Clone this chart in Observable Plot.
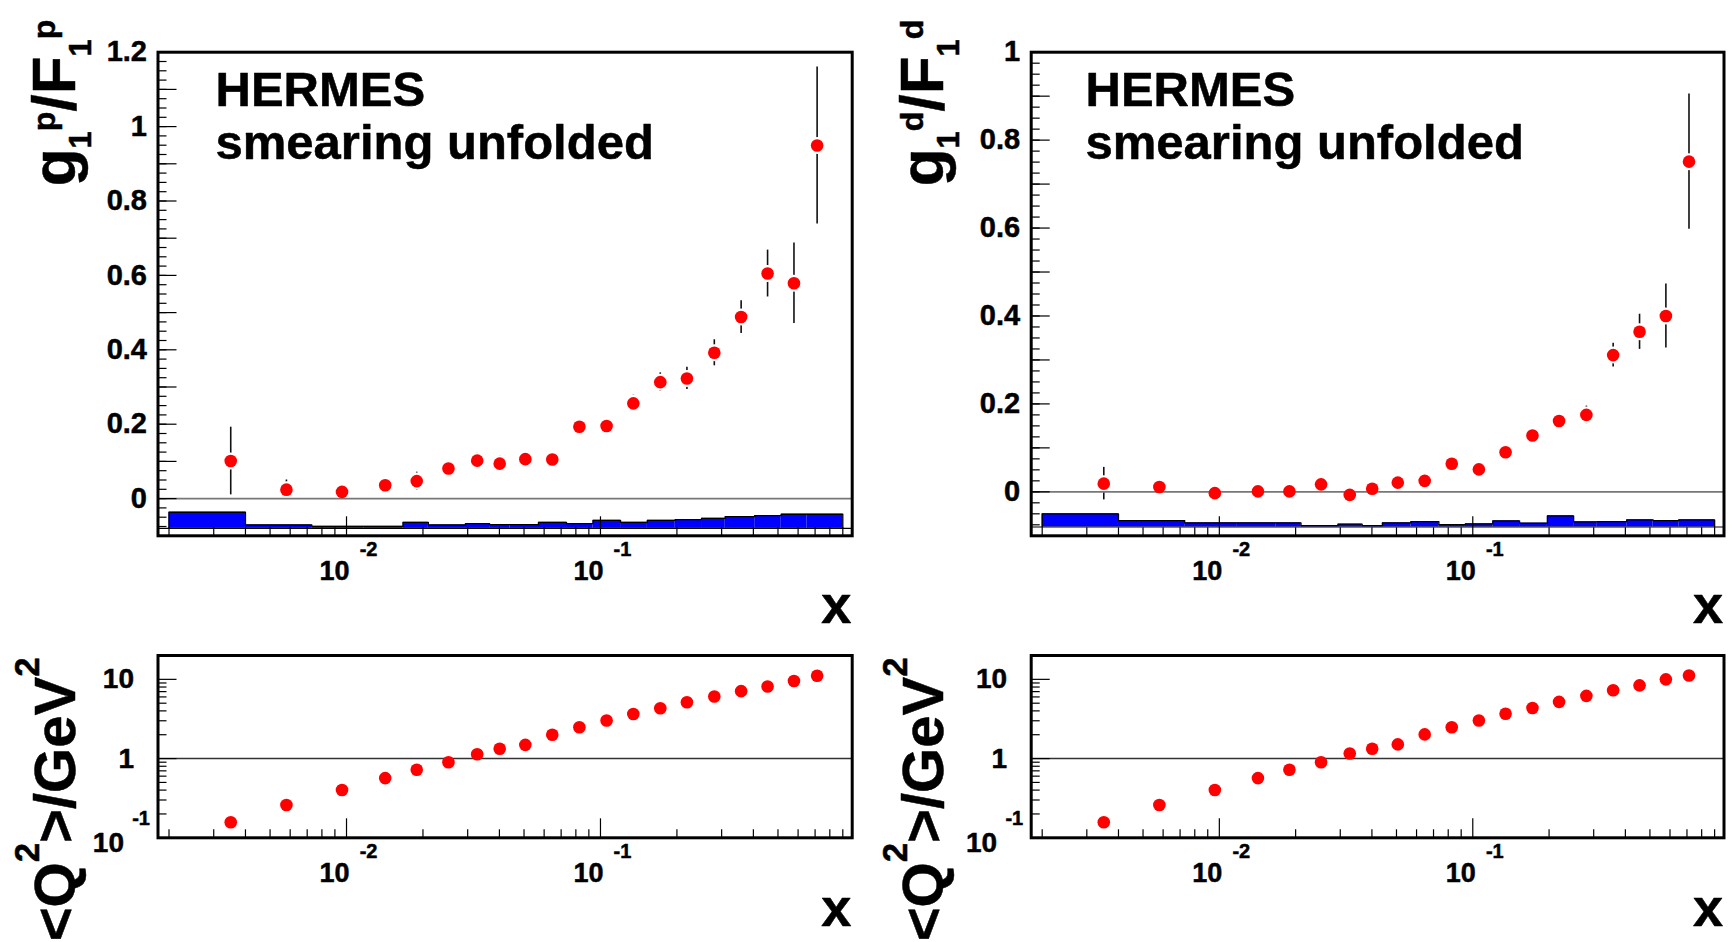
<!DOCTYPE html>
<html><head><meta charset="utf-8">
<script src="https://cdn.jsdelivr.net/npm/d3@7"></script>
<script src="https://cdn.jsdelivr.net/npm/@observablehq/plot@0.6"></script>
<style>
body{margin:0;background:#fff;}
#wrap{position:relative;width:1735px;height:942px;overflow:hidden;background:#fff;}
.panel{position:absolute;}
.panel text{paint-order:stroke;}
</style></head><body><div id="wrap"></div>
<script>
// ---- data ----
const xMean = [0.0035, 0.0058, 0.0096, 0.0142, 0.0189, 0.0252, 0.0327, 0.0401, 0.0506, 0.0646,
               0.0826, 0.1057, 0.1347, 0.172, 0.219, 0.2807, 0.358, 0.455, 0.578, 0.713];
const g1pF1p   = [0.101, 0.024, 0.018, 0.036, 0.047, 0.081, 0.102, 0.094, 0.106, 0.105,
                  0.193, 0.195, 0.256, 0.313, 0.323, 0.392, 0.488, 0.605, 0.579, 0.949];
const g1pErr   = [0.091, 0.026, 0.012, 0.012, 0.024, 0.014, 0.02, 0.02, 0.014, 0.014,
                  0.014, 0.014, 0.022, 0.025, 0.03, 0.035, 0.044, 0.063, 0.108, 0.211];
const g1dF1d   = [0.0186, 0.011, -0.003, 0.001, 0.001, 0.017, -0.007, 0.007, 0.021, 0.025,
                  0.064, 0.051, 0.090, 0.128, 0.161, 0.175, 0.311, 0.364, 0.400, 0.751];
const g1dErr   = [0.037, 0.01, 0.01, 0.01, 0.01, 0.01, 0.01, 0.01, 0.01, 0.01,
                  0.01, 0.01, 0.012, 0.014, 0.016, 0.02, 0.027, 0.040, 0.073, 0.154];
const binEdges = [0.002, 0.004, 0.0073, 0.0117, 0.0167, 0.021, 0.0294, 0.0366, 0.044, 0.057, 0.0735,
                  0.0935, 0.12, 0.153, 0.197, 0.25, 0.31, 0.405, 0.515, 0.65, 0.90];
const sysP = [-0.0367, -0.0709, -0.0745, -0.0745, -0.0637, -0.0709, -0.0673, -0.070, -0.070, -0.0637,
              -0.0673, -0.0583, -0.0637, -0.0583, -0.0565, -0.0529, -0.0484, -0.0457, -0.0421, -0.0421];
const sysD = [-0.050, -0.0653, -0.0706, -0.0706, -0.0706, -0.0767, -0.0736, -0.0767, -0.0706, -0.0676,
              -0.0744, -0.0729, -0.066, -0.0713, -0.0547, -0.0683, -0.0676, -0.0638, -0.0653, -0.0638];
const sysBase = -0.08;
const q2p = [0.157, 0.259, 0.402, 0.567, 0.724, 0.898, 1.136, 1.33, 1.49, 2.0,
             2.49, 3.03, 3.65, 4.31, 5.14, 6.07, 7.10, 8.14, 9.52, 11.1];
const q2d = [0.157, 0.259, 0.402, 0.567, 0.724, 0.898, 1.16, 1.33, 1.51, 2.02,
             2.49, 3.03, 3.68, 4.35, 5.19, 6.19, 7.3, 8.4, 10.0, 11.2];
const xDomain = [0.00181, 0.98];
const xMajor = [0.01, 0.1];
const xMajorExp = ["-2", "-1"];
const xMinor = [0.002,0.003,0.004,0.005,0.006,0.007,0.008,0.009,
                0.02,0.03,0.04,0.05,0.06,0.07,0.08,0.09,
                0.2,0.3,0.4,0.5,0.6,0.7,0.8,0.9];
const yLabP = [0, 0.2, 0.4, 0.6, 0.8, 1, 1.2];
const yLabD = [0, 0.2, 0.4, 0.6, 0.8, 1];
const q2Major = [1, 10];
const q2Minor = [0.2,0.3,0.4,0.5,0.6,0.7,0.8,0.9,2,3,4,5,6,7,8,9,20];

const FONT = "'Liberation Sans', Arial, Helvetica, sans-serif";
const wrap = document.getElementById("wrap");

function range(a, b, s) { const out = []; for (let v = a; v <= b + 1e-9; v += s) out.push(+v.toFixed(4)); return out; }

function richText(svg, marker, parts, F) {
  const t = Array.from(svg.querySelectorAll("text")).find(n => n.textContent === marker);
  if (!t) return;
  while (t.firstChild) t.removeChild(t.firstChild);
  let cur = 0;
  for (const [s, scale, shift] of parts) {
    const ts = document.createElementNS("http://www.w3.org/2000/svg", "tspan");
    ts.setAttribute("font-size", (F * scale).toFixed(1));
    const dy = shift * F - cur;
    ts.setAttribute("dy", dy.toFixed(2));
    cur = shift * F;
    ts.textContent = s;
    t.appendChild(ts);
  }
}

const LAB = {fontWeight: "bold", fill: "#000", stroke: "#000", strokeWidth: 0.5};

function xLabels(dyMain) {
  return [
    Plot.text(xMajor, {x: d => d, frameAnchor: "bottom", text: () => "10", dx: -12, dy: dyMain, fontSize: 27, ...LAB}),
    Plot.text(xMajor, {x: d => d, frameAnchor: "bottom", text: (d, i) => xMajorExp[i], dx: 22, dy: 20, fontSize: 20, ...LAB})
  ];
}

function mainPanel({left, top, width, height, mL, mT, mR, mB, yDomain, yLabels, vals, errs, sys, ylabel, sup, hx}) {
  const innerH = height - mT - mB, innerW = width - mL - mR;
  const idx = vals.map((_, i) => i);
  const bins = sys.map((v, i) => ({x1: binEdges[i], x2: binEdges[i + 1], top: v}));
  const outline = [{x: binEdges[0], y: sysBase}];
  sys.forEach((v, i) => outline.push({x: binEdges[i], y: v}));
  outline.push({x: binEdges[binEdges.length - 1], y: sys[sys.length - 1]});
  outline.push({x: binEdges[binEdges.length - 1], y: sysBase});
  const y0 = yDomain[0], y1 = yDomain[1];
  const yFine = range(Math.ceil(y0 / 0.025) * 0.025, y1, 0.025);
  const yMid = range(Math.ceil(y0 / 0.1) * 0.1, y1, 0.1);
  const plot = Plot.plot({
    width, height, marginLeft: mL, marginTop: mT, marginRight: mR, marginBottom: mB,
    x: {type: "log", domain: xDomain, axis: null},
    y: {domain: yDomain, axis: null},
    style: {fontFamily: FONT, background: "transparent", overflow: "visible"},
    marks: [
      Plot.rect(bins, {x1: "x1", x2: "x2", y1: sysBase, y2: "top", fill: "#0000ff"}),
      Plot.line(outline, {x: "x", y: "y", curve: "step-after", stroke: "#000", strokeWidth: 1.3}),
      Plot.ruleY([sysBase], {stroke: "#000", strokeWidth: 1.2}),
      Plot.ruleX(idx, {x: i => xMean[i], y1: i => vals[i] - errs[i], y2: i => vals[i] + errs[i], stroke: "#111", strokeWidth: 1.6}),
      Plot.dot(idx, {x: i => xMean[i], y: i => vals[i], r: 8.5, fill: "#fff"}),
      Plot.ruleY([0], {stroke: "#777", strokeWidth: 1.6}),
      Plot.dot(idx, {x: i => xMean[i], y: i => vals[i], r: 6.3, fill: "#ff0000"}),
      // y ticks (inside, left)
      Plot.tickY(yFine, {y: d => d, stroke: "#000", strokeWidth: 1.2, insetRight: innerW - 9}),
      Plot.tickY(yMid, {y: d => d, stroke: "#000", strokeWidth: 1.2, insetRight: innerW - 19}),
      // x ticks (inside, bottom)
      Plot.tickX(xMinor, {x: d => d, stroke: "#000", strokeWidth: 1.2, insetTop: innerH - 8}),
      Plot.tickX(xMajor, {x: d => d, stroke: "#000", strokeWidth: 1.2, insetTop: innerH - 19}),
      Plot.frame({stroke: "#000", strokeWidth: 3}),
      // tick labels
      Plot.text(yLabels, {y: d => d, frameAnchor: "left", text: d => String(d), dx: -11, textAnchor: "end", fontSize: 29, ...LAB}),
      ...xLabels(44),
      // titles
      Plot.text(["HERMES"], {frameAnchor: "top-left", text: d => d, dx: hx, dy: 53.3,
        lineAnchor: "bottom", textAnchor: "start", fontSize: 49, ...LAB}),
      Plot.text(["smearing unfolded"], {frameAnchor: "top-left", text: d => d, dx: hx, dy: 106.3,
        lineAnchor: "bottom", textAnchor: "start", fontSize: 49, ...LAB}),
      Plot.text(["x"], {frameAnchor: "bottom-right", text: d => d, dx: -1, dy: 87, lineAnchor: "bottom",
        textAnchor: "end", fontSize: 54, ...LAB}),
      Plot.text([ylabel], {frameAnchor: "top-left", text: d => d, dx: 74 - mL, dy: 19 - mT, rotate: -90,
        textAnchor: "end", lineAnchor: "bottom", fontSize: 62, ...LAB})
    ]
  });
  plot.style.left = left + "px"; plot.style.top = top + "px"; plot.classList.add("panel");
  richText(plot, ylabel, [["g", 1, 0], ["1", 0.5, 0.26], [sup, 0.52, -0.32], ["/", 1, 0], ["F", 1, 0], ["1", 0.5, 0.26], [sup, 0.52, -0.32]], 62);
  wrap.appendChild(plot);
}

function q2Panel({left, top, width, height, mL, mT, mR, mB, vals}) {
  const innerH = height - mT - mB, innerW = width - mL - mR;
  const idx = vals.map((_, i) => i);
  const plot = Plot.plot({
    width, height, marginLeft: mL, marginTop: mT, marginRight: mR, marginBottom: mB,
    x: {type: "log", domain: xDomain, axis: null},
    y: {type: "log", domain: [0.1, 20], axis: null},
    style: {fontFamily: FONT, background: "transparent", overflow: "visible"},
    marks: [
      Plot.ruleY([1], {stroke: "#333", strokeWidth: 1.4}),
      Plot.dot(idx, {x: i => xMean[i], y: i => vals[i], r: 6.3, fill: "#ff0000"}),
      Plot.tickY(q2Minor, {y: d => d, stroke: "#000", strokeWidth: 1.2, insetRight: innerW - 9}),
      Plot.tickY(q2Major, {y: d => d, stroke: "#000", strokeWidth: 1.2, insetRight: innerW - 19}),
      Plot.tickX(xMinor, {x: d => d, stroke: "#000", strokeWidth: 1.2, insetTop: innerH - 8}),
      Plot.tickX(xMajor, {x: d => d, stroke: "#000", strokeWidth: 1.2, insetTop: innerH - 19}),
      Plot.frame({stroke: "#000", strokeWidth: 3}),
      Plot.text(q2Major, {y: d => d, frameAnchor: "left", text: d => String(d), dx: -24, textAnchor: "end", fontSize: 28, ...LAB}),
      Plot.text([0.1], {y: d => d, frameAnchor: "left", text: () => "10", dx: -34, dy: 5, textAnchor: "end", fontSize: 28, ...LAB}),
      Plot.text([0.1], {y: d => d, frameAnchor: "left", text: () => "-1", dx: -8, dy: -19, textAnchor: "end", fontSize: 20, ...LAB}),
      ...xLabels(44),
      Plot.text(["x"], {frameAnchor: "bottom-right", text: d => d, dx: -1, dy: 88, lineAnchor: "bottom",
        textAnchor: "end", fontSize: 54, ...LAB}),
      Plot.text(["Q2LABEL"], {frameAnchor: "top-left", text: d => d, dx: 74 - mL, dy: 657 - 642 - mT, rotate: -90,
        textAnchor: "end", lineAnchor: "bottom", fontSize: 58, ...LAB})
    ]
  });
  plot.style.left = left + "px"; plot.style.top = top + "px"; plot.classList.add("panel");
  richText(plot, "Q2LABEL", [["<", 1, 0], ["Q", 1, 0], ["2", 0.6, -0.62], [">", 1, 0], ["/", 1, 0], ["G", 1, 0], ["e", 1, 0], ["V", 1, 0], ["2", 0.6, -0.62]], 58);
  wrap.appendChild(plot);
}

mainPanel({left: 0, top: 0, width: 868, height: 642, mL: 157.5, mT: 51.7, mR: 16.3, mB: 106.7,
  yDomain: [-0.1, 1.2], yLabels: yLabP, vals: g1pF1p, errs: g1pErr, sys: sysP, ylabel: "g1p", sup: "p", hx: 57.5});
mainPanel({left: 868, top: 0, width: 867, height: 642, mL: 162.7, mT: 51.7, mR: 11.5, mB: 106.7,
  yDomain: [-0.1, 1.0], yLabels: yLabD, vals: g1dF1d, errs: g1dErr, sys: sysD, ylabel: "g1d", sup: "d", hx: 54.3});
q2Panel({left: 0, top: 642, width: 868, height: 300, mL: 157.5, mT: 13, mR: 16.3, mB: 104.7, vals: q2p});
q2Panel({left: 868, top: 642, width: 867, height: 300, mL: 162.7, mT: 13, mR: 11.5, mB: 104.7, vals: q2d});
</script></body></html>
